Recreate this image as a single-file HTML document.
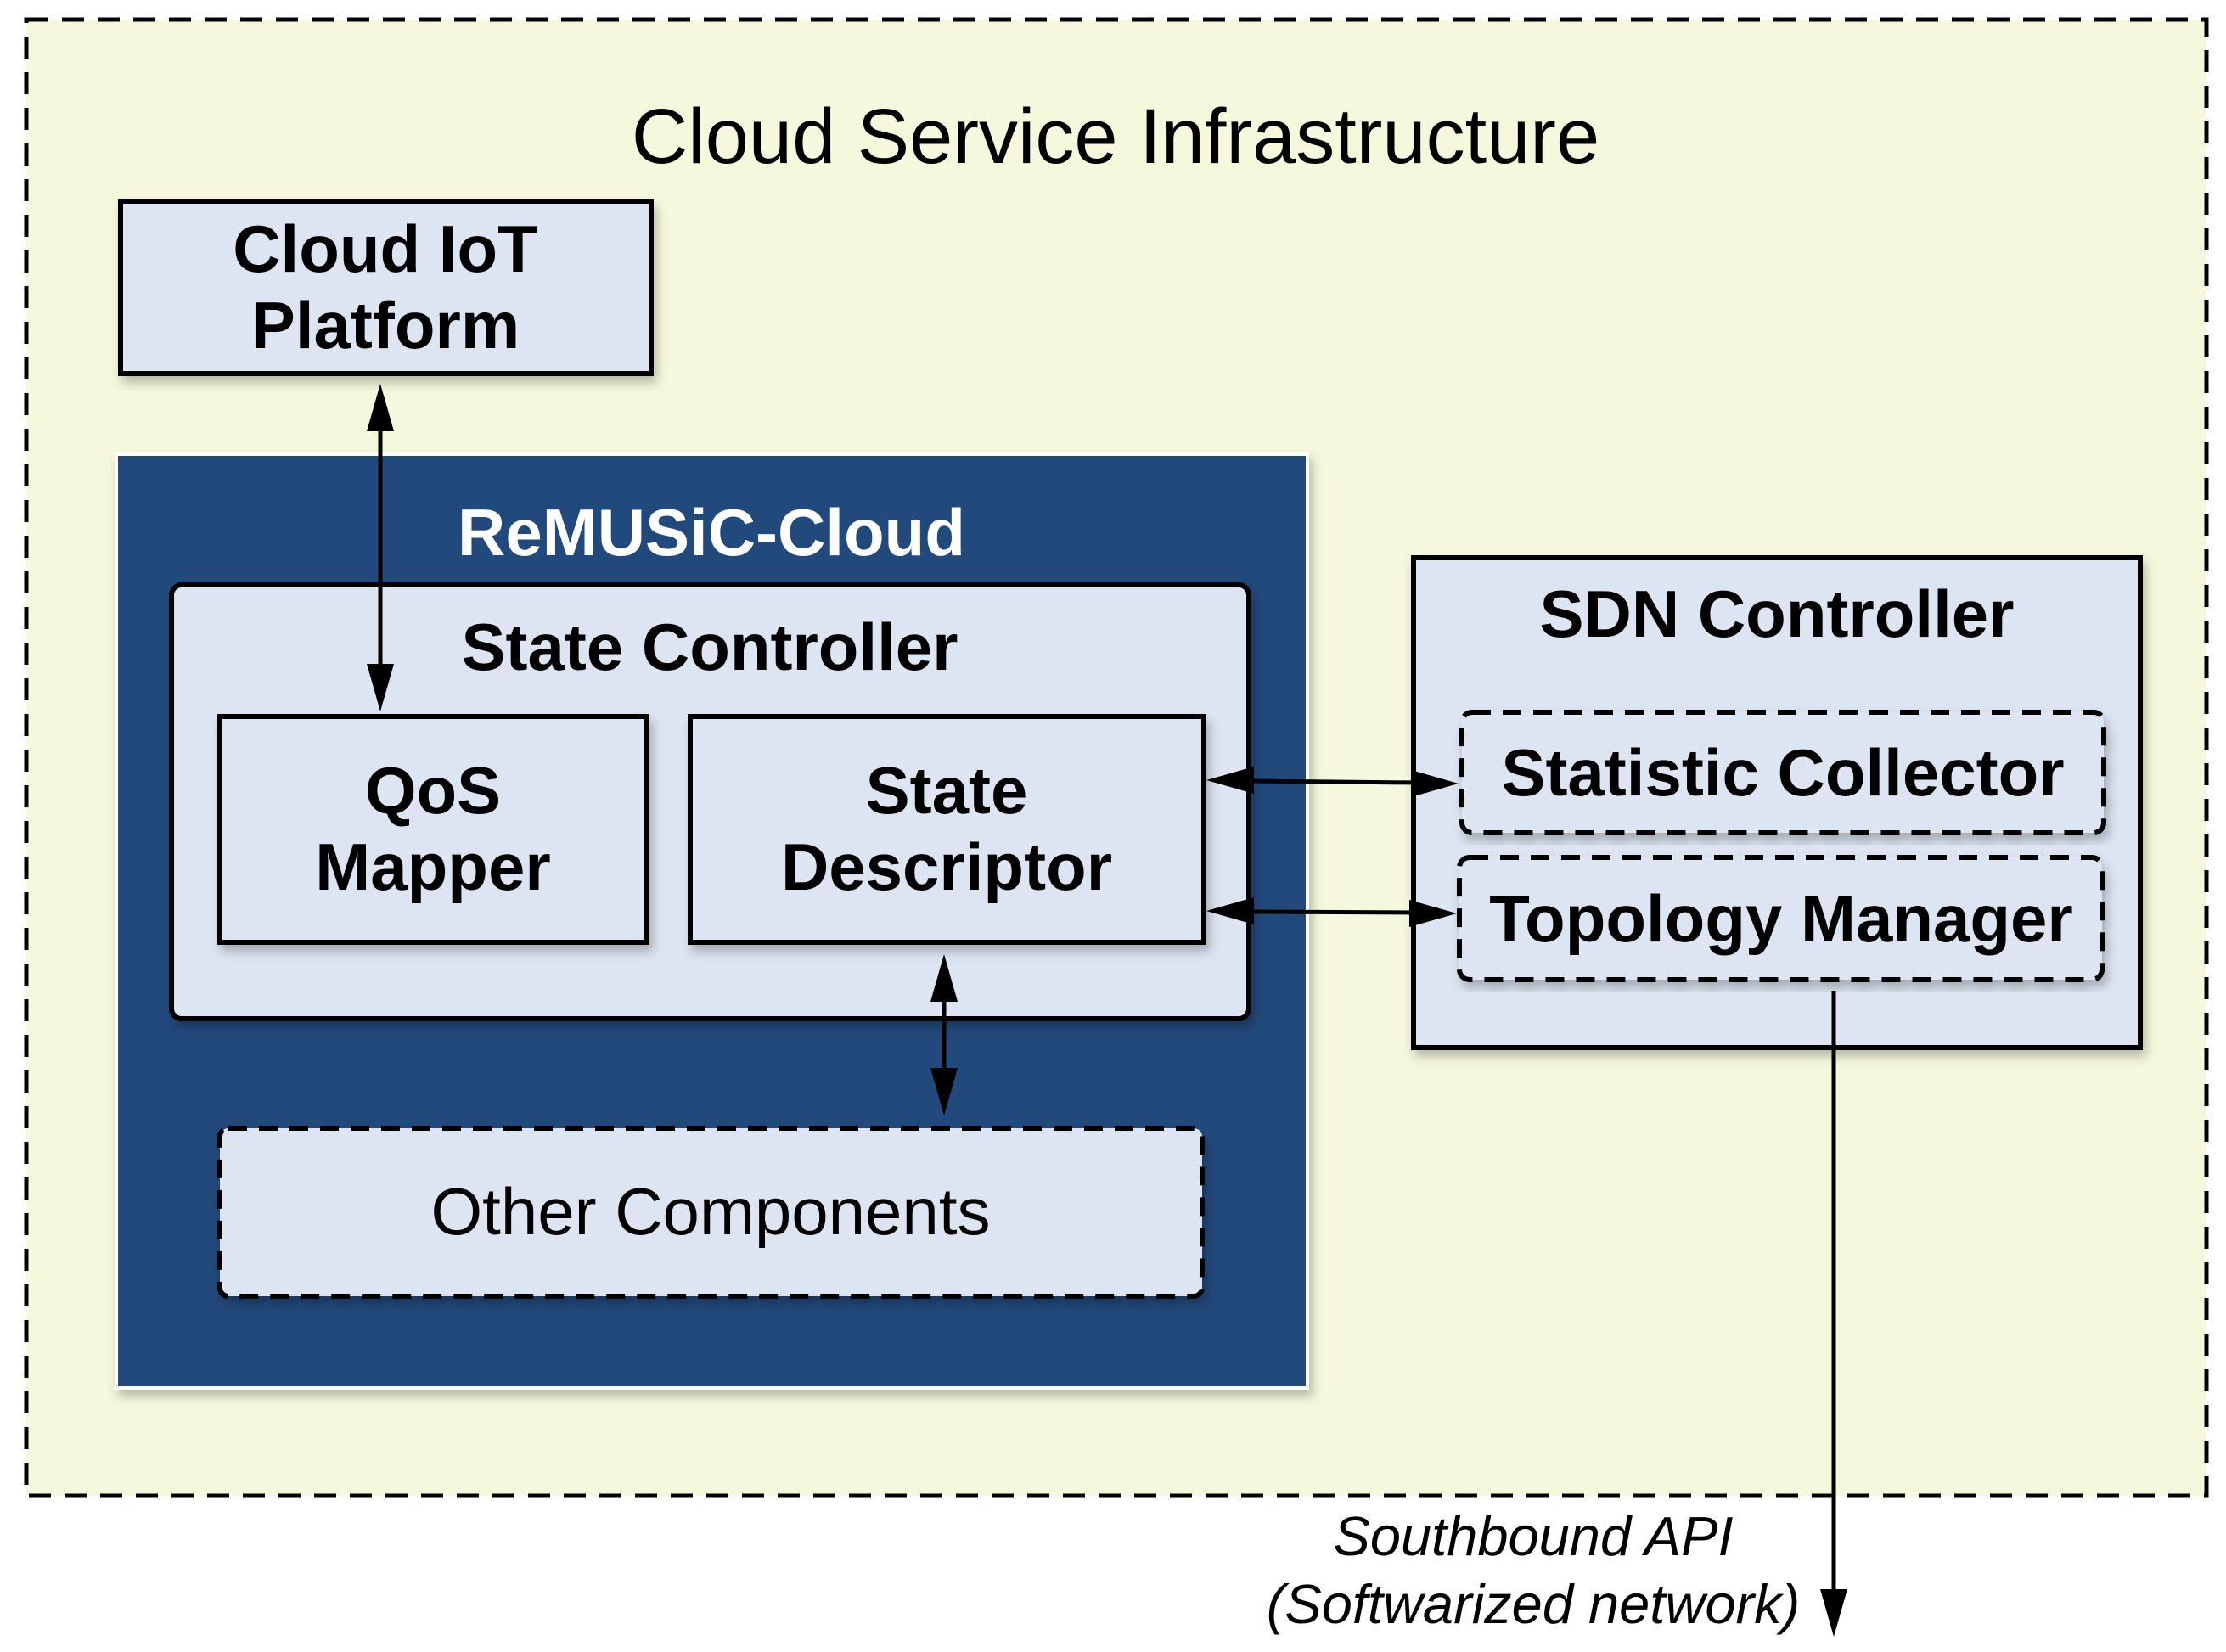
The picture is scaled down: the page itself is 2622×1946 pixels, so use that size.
<!DOCTYPE html>
<html><head><meta charset="utf-8"><style>
html,body{margin:0;padding:0;background:#fff;}
svg{display:block;}
text{font-family:"Liberation Sans",Arial,sans-serif;}
</style></head><body>
<svg width="2622" height="1946" viewBox="0 0 2622 1946" xmlns="http://www.w3.org/2000/svg">
<defs>
<filter id="sh" x="-5%" y="-5%" width="115%" height="115%"><feDropShadow dx="4" dy="8" stdDeviation="6" flood-color="#000" flood-opacity="0.25"/></filter>
</defs>
<rect width="2622" height="1946" fill="#fff"/>
<rect x="31" y="23" width="2568" height="1739" fill="#f5f8dd" stroke="#000" stroke-width="5" stroke-dasharray="26,16"/>
<text x="1314" y="192" font-size="92" text-anchor="middle">Cloud Service Infrastructure</text>

<rect x="142" y="237" width="625" height="203" fill="#dce5f1" stroke="#000" stroke-width="6" filter="url(#sh)"/>
<text x="454" y="320" font-size="78" font-weight="bold" text-anchor="middle">Cloud IoT</text>
<text x="454" y="410" font-size="78" font-weight="bold" text-anchor="middle">Platform</text>

<rect x="137" y="535" width="1403" height="1100" fill="#20487b" stroke="#fff" stroke-width="4" filter="url(#sh)"/>
<text x="838" y="654" font-size="78" font-weight="bold" text-anchor="middle" fill="#fff">ReMUSiC-Cloud</text>

<rect x="202" y="689" width="1269" height="511" rx="12" fill="#dce5f1" stroke="#000" stroke-width="6" filter="url(#sh)"/>
<text x="836" y="789" font-size="78" font-weight="bold" text-anchor="middle">State Controller</text>

<rect x="259" y="844" width="503" height="266" fill="#dce5f1" stroke="#000" stroke-width="6" filter="url(#sh)"/>
<text x="510" y="958" font-size="78" font-weight="bold" text-anchor="middle">QoS</text>
<text x="510" y="1048" font-size="78" font-weight="bold" text-anchor="middle">Mapper</text>

<rect x="813" y="844" width="605" height="266" fill="#dce5f1" stroke="#000" stroke-width="6" filter="url(#sh)"/>
<text x="1115" y="958" font-size="78" font-weight="bold" text-anchor="middle">State</text>
<text x="1115" y="1048" font-size="78" font-weight="bold" text-anchor="middle">Descriptor</text>

<rect x="259" y="1329" width="1157" height="198" rx="10" fill="#dce5f1" stroke="#000" stroke-width="6" stroke-dasharray="22,14" filter="url(#sh)"/>
<text x="837" y="1454" font-size="78" text-anchor="middle">Other Components</text>

<rect x="1665" y="657" width="856" height="577" fill="#dce5f1" stroke="#000" stroke-width="6" filter="url(#sh)"/>
<text x="2093" y="750" font-size="78" font-weight="bold" text-anchor="middle">SDN Controller</text>

<rect x="1722" y="839" width="756" height="142" rx="12" fill="#dce5f1" stroke="#000" stroke-width="6" stroke-dasharray="22,14" filter="url(#sh)"/>
<text x="2100" y="937" font-size="78" font-weight="bold" text-anchor="middle">Statistic Collector</text>
<rect x="1719" y="1010" width="757" height="144" rx="12" fill="#dce5f1" stroke="#000" stroke-width="6" stroke-dasharray="22,14" filter="url(#sh)"/>
<text x="2098" y="1109" font-size="78" font-weight="bold" text-anchor="middle">Topology Manager</text>

<g stroke="#000" stroke-width="5" fill="none">
<line x1="448" y1="500" x2="448" y2="790"/>
<line x1="1112" y1="1170" x2="1112" y2="1268"/>
<line x1="1470" y1="920" x2="1670" y2="922"/>
<line x1="1470" y1="1074" x2="1668" y2="1075"/>
<line x1="2160" y1="1167" x2="2160" y2="1880"/>
</g>
<g fill="#000">
<polygon points="448,452 432,508 464,508"/>
<polygon points="448,838 432,782 464,782"/>
<polygon points="1112,1124 1096,1180 1128,1180"/>
<polygon points="1112,1314 1096,1258 1128,1258"/>
<polygon points="1421,919 1477,903 1477,935"/>
<polygon points="1718,923 1662,907 1662,939"/>
<polygon points="1421,1073 1477,1057 1477,1089"/>
<polygon points="1716,1076 1660,1060 1660,1092"/>
<polygon points="2160,1928 2144,1872 2176,1872"/>
</g>
<text x="1806" y="1832" font-size="65" font-style="italic" text-anchor="middle">Southbound API</text>
<text x="1806" y="1912" font-size="65" font-style="italic" text-anchor="middle">(Softwarized network)</text>
</svg>
</body></html>
